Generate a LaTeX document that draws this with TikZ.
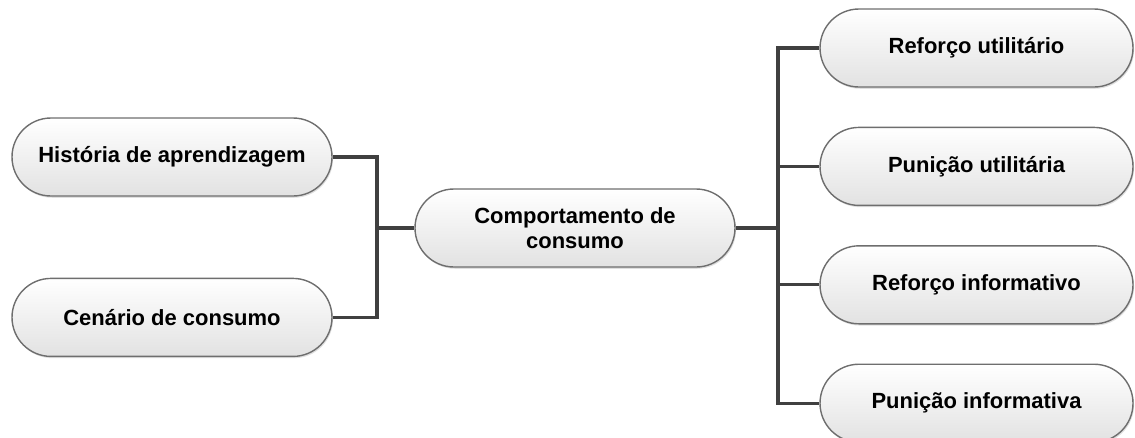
\documentclass[tikz,border=0pt]{standalone}
\usepackage{fontspec}
\setmainfont{Liberation Sans}
\usepackage{tikz}
\usetikzlibrary{shapes.misc, shadows}
\usetikzlibrary{positioning}
\definecolor{boxBorder}{HTML}{6E6E6E}
\definecolor{boxBottom}{HTML}{E2E2E2}
\definecolor{lineDark}{HTML}{404040}
\tikzset{conn-line/.style={line width=1.8pt, color=lineDark}}
\tikzset{pill-node/.style={
        rounded rectangle,
        draw=boxBorder,
        line width=0.8pt,
        top color=white,
        bottom color=boxBottom,
        minimum width=6.4cm,
        minimum height=1.56cm,
        inner sep=0,
        align=center,
        font=\fontsize{12.5}{14}\selectfont\bfseries,
        drop shadow={opacity=0.25, shadow xshift=0.6pt, shadow yshift=-1pt}
    }
}
\tikzset{right-node/.style={pill-node, minimum width=6.26cm}}

\begin{document}
\begin{tikzpicture}[]
    \useasboundingbox (0,0) rectangle (22.7,-8.74);

    \node[pill-node] (center) at (11.5,-4.56) {Comportamento de\\consumo};

    \node[pill-node] (left1) at (3.44,-3.14) {História de aprendizagem};
    \node[pill-node, below=1.62cm of left1] (left2) {Cenário de consumo};

    \node[right-node] (right1) at (19.53,-0.96) {Reforço utilitário};
    \node[right-node, below=0.78cm of right1] (right2) {Punição utilitária};
    \node[right-node, below=0.78cm of right2] (right3) {Reforço informativo};
    \node[right-node, below=0.78cm of right3] (right4) {Punição informativa};

    \coordinate (ljoin) at (7.54,-4.56);
    \coordinate (rjoin) at (15.56,-4.56);

    \draw[conn-line] (left1.east) -| (ljoin) -- (center.west);
    \draw[conn-line] (left2.east) -| (ljoin);
    \draw[conn-line] (center.east) -- (rjoin);
    \foreach \i in {1,...,4}
        \draw[conn-line] (rjoin) |- (right\i.west);
\end{tikzpicture}
\end{document}
